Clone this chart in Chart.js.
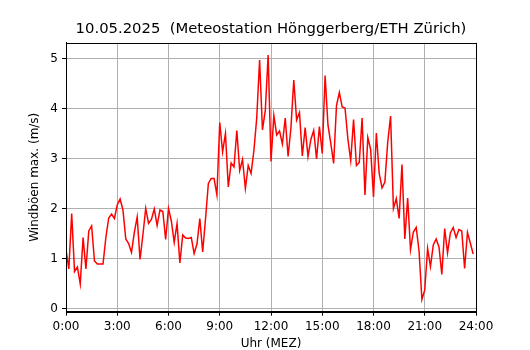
<!DOCTYPE html>
<html>
<head>
<meta charset="utf-8">
<script src="https://cdn.jsdelivr.net/npm/chart.js@4/dist/chart.umd.min.js"></script>
<style>
  html, body { margin: 0; padding: 0; background: #fff; }
  #wrap { width: 530px; height: 350px; }
</style>
</head>
<body>
<div id="wrap"><canvas id="c" width="530" height="350"></canvas></div>
<script>
// ---- Data (10-minute gust maxima, m/s) ----
const titleText = '10.05.2025  (Meteostation Hönggerberg/ETH Zürich)';
const xAxisLabel = 'Uhr (MEZ)';
const yAxisLabel = 'Windböen max. (m/s)';
const intervalMinutes = 10;
const gustValues = [
  1.18, 0.80, 1.91, 0.75, 0.84, 0.50, 1.43, 0.80, 1.56, 1.66, 0.96, 0.90,
  0.90, 0.90, 1.43, 1.82, 1.90, 1.81, 2.08, 2.20, 1.98, 1.40, 1.31, 1.13,
  1.53, 1.84, 0.99, 1.48, 2.01, 1.71, 1.79, 2.00, 1.67, 1.98, 1.95, 1.39,
  2.01, 1.76, 1.33, 1.71, 0.92, 1.48, 1.42, 1.41, 1.43, 1.11, 1.30, 1.81,
  1.14, 1.80, 2.51, 2.61, 2.61, 2.28, 3.73, 3.14, 3.51, 2.44, 2.92, 2.84,
  3.57, 2.77, 2.99, 2.41, 2.87, 2.71, 3.17, 3.83, 4.98, 3.58, 3.97, 5.08,
  2.95, 3.87, 3.48, 3.56, 3.30, 3.82, 3.05, 3.62, 4.58, 3.78, 3.93, 3.06,
  3.63, 3.05, 3.39, 3.57, 3.00, 3.65, 3.11, 4.67, 3.68, 3.31, 2.91, 4.07,
  4.33, 4.04, 4.02, 3.40, 2.97, 3.79, 2.87, 2.93, 3.82, 2.28, 3.43, 3.19,
  2.24, 3.52, 2.71, 2.42, 2.54, 3.34, 3.86, 2.01, 2.21, 1.81, 2.89, 1.40,
  2.22, 1.19, 1.54, 1.63, 1.16, 0.19, 0.38, 1.21, 0.85, 1.28, 1.40, 1.24,
  0.69, 1.61, 1.12, 1.52, 1.63, 1.43, 1.59, 1.56, 0.81, 1.53, 1.32, 1.10
];
const xTickHours = [0, 3, 6, 9, 12, 15, 18, 21, 24];
const xTickLabels = ['0:00', '3:00', '6:00', '9:00', '12:00', '15:00', '18:00', '21:00', '24:00'];
const yTickValues = [0, 1, 2, 3, 4, 5];
const yTickLabels = ['0', '1', '2', '3', '4', '5'];

// ---- Build points (x in hours of day) ----
const points = gustValues.map((v, i) => ({ x: i * intervalMinutes / 60, y: v }));

// matplotlib-like auto y margins (5%)
const vMin = Math.min(...gustValues), vMax = Math.max(...gustValues);
const marg = (vMax - vMin) * 0.05;

const FONT = 'DejaVu Sans';
Chart.defaults.color = '#000';
Chart.defaults.font.family = FONT;

const framePlugin = {
  id: 'frame',
  afterDraw(chart) {
    const { ctx, chartArea: a } = chart;
    ctx.save();
    ctx.strokeStyle = '#000';
    ctx.lineWidth = 1;
    ctx.strokeRect(Math.round(a.left) + 0.5, Math.round(a.top) + 0.5,
                   Math.round(a.right - a.left), Math.round(a.bottom - a.top));
    ctx.restore();
  }
};

new Chart(document.getElementById('c'), {
  type: 'line',
  data: {
    datasets: [{
      data: points,
      borderColor: '#ff0000',
      backgroundColor: '#ff0000',
      borderWidth: 1.5,
      pointRadius: 0,
      tension: 0,
      fill: false
    }]
  },
  options: {
    responsive: false,
    animation: false,
    devicePixelRatio: 1,
    layout: { padding: { top: 0, right: 54, bottom: 0, left: 0 } },
    plugins: {
      legend: { display: false },
      tooltip: { enabled: false },
      title: {
        display: true,
        text: titleText,
        fullSize: false,
        color: '#000',
        font: { family: FONT, size: 14.8, weight: 'normal', lineHeight: 1.22 },
        padding: { top: 20, bottom: 4.7 }
      }
    },
    scales: {
      x: {
        type: 'linear',
        min: 0,
        max: 24,
        afterBuildTicks(scale) { scale.ticks = xTickHours.map(v => ({ value: v })); },
        afterFit(scale) { scale.height = 38.3; },
        ticks: {
          autoSkip: false,
          maxRotation: 0,
          padding: 4,
          color: '#000',
          font: { family: FONT, size: 12 },
          callback(value) { const k = xTickHours.indexOf(value); return k >= 0 ? xTickLabels[k] : ''; }
        },
        grid: { color: '#b0b0b0', lineWidth: 1, tickLength: 4, tickColor: '#000', drawTicks: true },
        border: { display: true, color: '#000', width: 1 },
        title: {
          display: true,
          text: xAxisLabel,
          color: '#000',
          font: { family: FONT, size: 12, lineHeight: 1.0 },
          padding: { top: 0, bottom: 0 }
        }
      },
      y: {
        type: 'linear',
        min: vMin - marg,
        max: vMax + marg,
        afterBuildTicks(scale) { scale.ticks = yTickValues.map(v => ({ value: v })); },
        afterFit(scale) { scale.width = 66; },
        ticks: {
          padding: 4,
          color: '#000',
          font: { family: FONT, size: 12 },
          callback(value) { const k = yTickValues.indexOf(value); return k >= 0 ? yTickLabels[k] : ''; }
        },
        grid: { color: '#b0b0b0', lineWidth: 1, tickLength: 4, tickColor: '#000', drawTicks: true },
        border: { display: true, color: '#000', width: 1 },
        title: {
          display: true,
          text: yAxisLabel,
          color: '#000',
          font: { family: FONT, size: 12, lineHeight: 1.0 },
          padding: { top: 29, bottom: 0 }
        }
      }
    }
  },
  plugins: [framePlugin]
});
</script>
</body>
</html>
